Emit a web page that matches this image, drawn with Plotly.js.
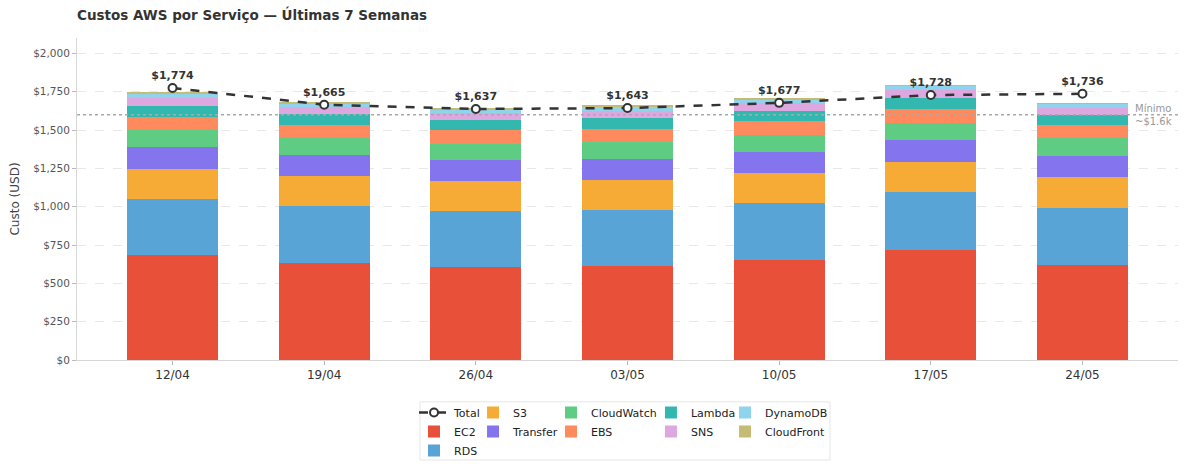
<!DOCTYPE html>
<html>
<head>
<meta charset="utf-8">
<script src="https://cdn.plot.ly/plotly-3.0.1.min.js"></script>
<style>
  html, body { margin: 0; padding: 0; background: #fff; }
  #chart { width: 1187px; height: 464px; }
</style>
</head>
<body>
<div id="chart"></div>
<script>
// weeks and cost per service (USD)
const weeks = ['12/04', '19/04', '26/04', '03/05', '10/05', '17/05', '24/05'];

const ec2        = [685, 633, 607, 613, 652, 717, 620];
const rds        = [365, 371, 365, 365, 372, 379, 371];
const s3         = [196, 196, 195, 196, 196, 195, 202];
const transfer   = [143, 137, 137, 137, 137, 144, 137];
const cloudwatch = [113, 113, 105, 113, 110, 111, 118];
const ebs        = [83, 83, 91, 83, 92, 91, 85];
const lambda     = [72, 71, 65, 71, 65, 72, 65];
const sns        = [54, 46, 46, 46, 52, 52, 48];
const dynamodb   = [26, 26, 24, 26, 26, 26, 26];
const cloudfront = [11, 7, 6, 7, 7, 6, 4];

const totals = [1774, 1665, 1637, 1643, 1677, 1728, 1736];
const minimo = 1600;

const yTickVals = [0, 250, 500, 750, 1000, 1250, 1500, 1750, 2000];
const yTickText = ['$0', '$250', '$500', '$750', '$1,000', '$1,250', '$1,500', '$1,750', '$2,000'];

// name, values, colour, legend column
const services = [
  ['EC2', ec2, '#E8503A', 'legend'],
  ['RDS', rds, '#58A4D6', 'legend'],
  ['S3', s3, '#F5AB35', 'legend2'],
  ['Transfer', transfer, '#8475EE', 'legend2'],
  ['CloudWatch', cloudwatch, '#5ECC83', 'legend3'],
  ['EBS', ebs, '#FF8A5E', 'legend3'],
  ['Lambda', lambda, '#33B8B0', 'legend4'],
  ['SNS', sns, '#DDA8DF', 'legend4'],
  ['DynamoDB', dynamodb, '#8FD3EC', 'legend5'],
  ['CloudFront', cloudfront, '#C4BC75', 'legend5']
];

const font = 'DejaVu Sans, sans-serif';

let traces = services.map(s => ({
  type: 'bar',
  name: s[0],
  x: weeks,
  y: s[1],
  marker: {color: s[2], line: {width: 0}},
  legend: s[3],
  hoverinfo: 'name+y'
}));

// total line drawn on top of the bars, listed first in the legend
traces.push({
  type: 'scatter',
  mode: 'lines+markers+text',
  name: 'Total',
  x: weeks,
  y: totals,
  line: {color: '#333333', width: 2.5, dash: 'dash'},
  marker: {size: 8, color: '#ffffff', line: {color: '#333333', width: 2}},
  texttemplate: '<b>$%{y:,.0f}</b>',
  textposition: 'top center',
  textfont: {family: font, size: 11, color: '#333333'},
  legend: 'legend',
  legendrank: 1,
  cliponaxis: false
});

// one vertical legend per column, so the entries read column by column
function col(x) {
  return {
    x: x, y: -0.118, xanchor: 'left', yanchor: 'top',
    orientation: 'v',
    traceorder: 'normal',
    bgcolor: 'rgba(0,0,0,0)',
    borderwidth: 0,
    font: {family: font, size: 11, color: '#222'},
    tracegroupgap: 0,
    itemwidth: 30
  };
}

const layout = {
  width: 1187,
  height: 464,
  margin: {l: 77, r: 9, t: 38, b: 104, autoexpand: false},
  paper_bgcolor: '#fff',
  plot_bgcolor: '#fff',
  font: {family: font, size: 11, color: '#444'},
  barmode: 'stack',
  bargap: 0.4,
  title: {
    text: '<b>Custos AWS por Serviço — Últimas 7 Semanas</b>',
    font: {family: font, size: 13.5, color: '#333'},
    x: 0, xref: 'paper', xanchor: 'left',
    y: 1, yref: 'container', yanchor: 'top', pad: {t: 11}
  },
  xaxis: {
    type: 'category',
    range: [-0.63, 6.63],
    showgrid: false,
    showline: true, linecolor: '#d6d6d6', linewidth: 1,
    ticks: 'outside', ticklen: 4, tickcolor: '#bbb',
    tickfont: {family: font, size: 12, color: '#333'},
    zeroline: false
  },
  yaxis: {
    range: [0, 2100],
    tickmode: 'array',
    tickvals: yTickVals,
    ticktext: yTickText,
    showgrid: true, gridcolor: '#e8e8e8', griddash: 'dash', gridwidth: 1,
    showline: true, linecolor: '#d6d6d6', linewidth: 1,
    ticks: 'outside', ticklen: 4, tickcolor: '#bbb',
    tickfont: {family: font, size: 10.5, color: '#555'},
    zeroline: false,
    title: {text: 'Custo (USD)', font: {family: font, size: 12, color: '#444'}, standoff: 10}
  },
  legend: col(0.3061),
  legend2: col(0.3597),
  legend3: col(0.4305),
  legend4: col(0.5213),
  legend5: col(0.5886),
  shapes: [
    {type: 'line', xref: 'paper', x0: 0, x1: 1, yref: 'y', y0: minimo, y1: minimo,
     line: {color: '#aaaaaa', width: 1.5, dash: 'dot'}, layer: 'above'},
    {type: 'rect', xref: 'paper', yref: 'paper', x0: 0.3115, x1: 0.6839, y0: -0.3106, y1: -0.130,
     line: {color: '#e6e6e6', width: 1}, fillcolor: 'rgba(0,0,0,0)'}
  ],
  annotations: [
    {xref: 'paper', x: 0.996, yref: 'y', y: minimo, xanchor: 'right', yanchor: 'middle',
     text: 'Mínimo<br>~$1.6k', align: 'left', showarrow: false,
     font: {family: font, size: 10, color: '#999'}}
  ],
  hovermode: 'closest'
};

Plotly.newPlot('chart', traces, layout, {displayModeBar: false, responsive: false});
</script>
</body>
</html>
